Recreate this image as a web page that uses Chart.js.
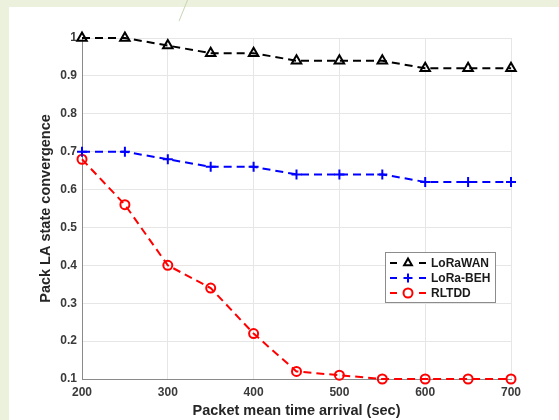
<!DOCTYPE html>
<html>
<head>
<meta charset="utf-8">
<script src="https://cdn.jsdelivr.net/npm/chart.js@4.4.1/dist/chart.umd.min.js"></script>
<style>
  html, body { margin: 0; padding: 0; background: #fff; }
  #wrap { position: relative; width: 559px; height: 420px; overflow: hidden; }
  .strip { position: absolute; background: #ebf1dd; }
  #left { left: 0; top: 0; width: 9px; height: 420px; }
  #top { left: 0; top: 0; width: 559px; height: 7px; }
  #slash { position: absolute; left: 183px; top: -2px; width: 1px; height: 24px; background: #c9d6b4; transform: rotate(22deg); }
  canvas { position: absolute; left: 0; top: 0; }
</style>
</head>
<body>
<div id="wrap">
  <div class="strip" id="left"></div>
  <div class="strip" id="top"></div>
  <div id="slash"></div>
  <canvas id="conv_chart" width="559" height="420"></canvas>
</div>
<script>
    // Data
    const arrivalTimes = [200, 250, 300, 350, 400, 450, 500, 550, 600, 650, 700];
    const lorawan = [1.00, 1.00, 0.98, 0.96, 0.96, 0.94, 0.94, 0.94, 0.92, 0.92, 0.92];
    const loraBeh = [0.70, 0.70, 0.68, 0.66, 0.66, 0.64, 0.64, 0.64, 0.62, 0.62, 0.62];
    const rltdd = [0.68, 0.56, 0.40, 0.34, 0.22, 0.12, 0.11, 0.10, 0.10, 0.10, 0.10];
    const seriesNames = ['LoRaWAN', 'LoRa-BEH', 'RLTDD'];

    const toPoints = (vals) => vals.map((v, i) => ({ x: arrivalTimes[i], y: v }));

    function makeSet(label, vals, color, style, radius) {
        return {
            label: label,
            data: toPoints(vals),
            borderColor: color,
            backgroundColor: color,
            borderWidth: 2,
            borderDash: [8, 5],
            pointStyle: style,
            pointRadius: radius,
            pointBorderWidth: 2,
            pointBorderColor: color,
            pointBackgroundColor: 'rgba(255,255,255,0)',
            tension: 0,
            clip: false
        };
    }

    // Legend box drawn inside the plot, MATLAB style
    const boxLegend = {
        id: 'boxLegend',
        afterDraw(chart) {
            const ctx = chart.ctx;
            const area = chart.chartArea;
            const x0 = area.right - 126, y0 = area.bottom - 127;
            const w = 110, h = 50;
            ctx.save();
            ctx.fillStyle = '#fff';
            ctx.fillRect(x0, y0, w, h);
            ctx.strokeStyle = '#8c8c8c';
            ctx.lineWidth = 1;
            ctx.strokeRect(x0 + 0.5, y0 + 0.5, w, h);
            chart.data.datasets.forEach((ds, i) => {
                const y = y0 + 11 + i * 15;
                ctx.strokeStyle = ds.borderColor;
                ctx.lineWidth = 2;
                ctx.setLineDash([]);
                ctx.beginPath();
                ctx.moveTo(x0 + 5, y); ctx.lineTo(x0 + 12, y);
                ctx.moveTo(x0 + 34, y); ctx.lineTo(x0 + 41, y);
                ctx.stroke();
                ctx.fillStyle = ds.pointBackgroundColor;
                Chart.helpers.drawPoint(ctx, {
                    pointStyle: ds.pointStyle, radius: 4.5, rotation: 0, borderWidth: 2
                }, x0 + 23, y);
                ctx.fillStyle = '#1a1a1a';
                ctx.font = 'bold 12px "Liberation Sans", Arial, sans-serif';
                ctx.textBaseline = 'middle';
                ctx.fillText(ds.label, x0 + 46, y + 1);
            });
            ctx.restore();
        }
    };

    // White plot background
    const plotBg = {
        id: 'plotBg',
        beforeDraw(chart) {
            const ctx = chart.ctx;
            const a = chart.chartArea;
            ctx.save();
            ctx.fillStyle = '#fff';
            ctx.fillRect(a.left, a.top, a.right - a.left, a.bottom - a.top);
            ctx.restore();
        }
    };

    const tickFont = { family: '"Liberation Sans", Arial, sans-serif', size: 12, weight: 'bold' };
    const titleFont = { family: '"Liberation Sans", Arial, sans-serif', size: 14.5, weight: 'bold' };

    const config = {
        type: 'line',
        data: {
            datasets: [
                makeSet(seriesNames[0], lorawan, '#000000', 'triangle', 5.5),
                makeSet(seriesNames[1], loraBeh, '#0000ff', 'cross', 5),
                makeSet(seriesNames[2], rltdd, '#ff0000', 'circle', 4.5)
            ]
        },
        options: {
            responsive: false,
            animation: false,
            layout: { padding: { left: 9, right: 48, top: 38, bottom: 0 } },
            plugins: {
                legend: { display: false },
                tooltip: { enabled: false }
            },
            scales: {
                x: {
                    type: 'linear',
                    min: 200,
                    max: 700,
                    ticks: { stepSize: 100, font: tickFont, color: '#3a3a3a', padding: 6 },
                    grid: { color: '#e6e6e6', drawTicks: false },
                    border: { color: '#8a8a8a', width: 1 },
                    title: { display: true, text: 'Packet mean time arrival (sec)', font: titleFont, color: '#262626', padding: { top: 1, bottom: 0 } },
                    afterFit(axis) { axis.height = 41; }
                },
                y: {
                    min: 0.1,
                    max: 1,
                    ticks: {
                        stepSize: 0.1,
                        font: tickFont,
                        color: '#3a3a3a',
                        padding: 5,
                        callback: (v) => String(+v.toFixed(1))
                    },
                    grid: { color: '#e6e6e6', drawTicks: false },
                    border: { color: '#8a8a8a', width: 1 },
                    title: { display: true, text: 'Pack LA state convergence', font: titleFont, color: '#262626', padding: { top: 28, bottom: 4 } },
                    afterFit(axis) { axis.width = 73; }
                }
            }
        },
        plugins: [plotBg, boxLegend]
    };

    const conv_chart = new Chart(document.getElementById('conv_chart'), config);
</script>
</body>
</html>
